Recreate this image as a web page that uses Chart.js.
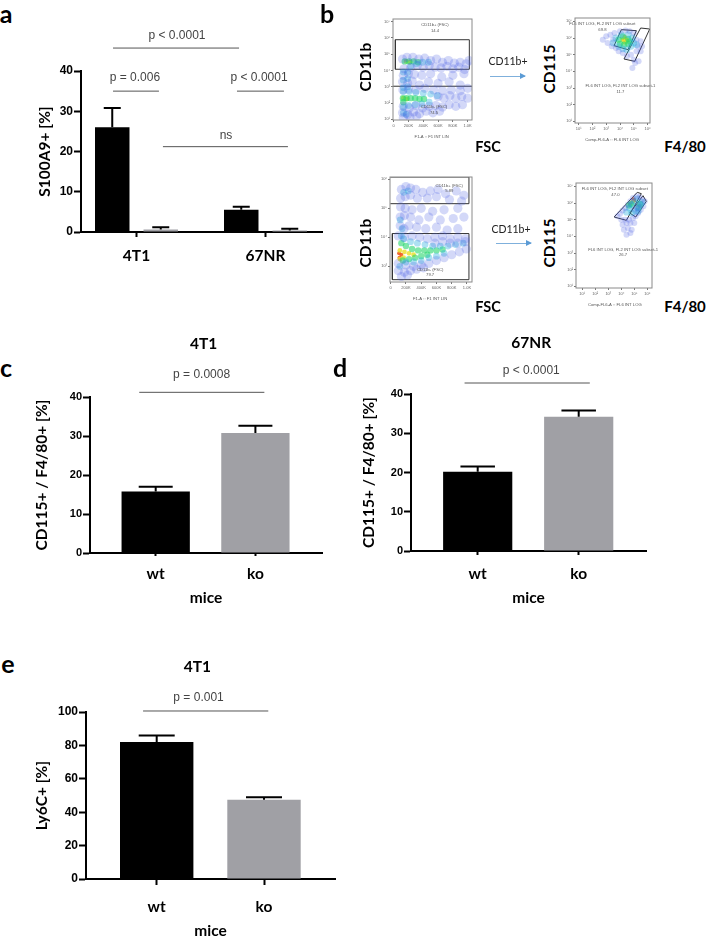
<!DOCTYPE html>
<html><head><meta charset="utf-8">
<script src="https://cdn.jsdelivr.net/npm/chart.js@4/dist/chart.umd.min.js"></script>
<style>
html,body{margin:0;padding:0;background:#fff}
#page{position:relative;width:708px;height:937px;overflow:hidden;background:#fff}
canvas{position:absolute}
.t{position:absolute;white-space:nowrap;color:#000;font-family:Lato,sans-serif;font-weight:700;transform:translate(-50%,-50%)}
.r{transform:translate(-50%,-50%) rotate(-90deg)}
.arrow{position:absolute;height:1px;background:#7fb0dc}
.arrow:after{content:"";position:absolute;right:-1px;top:-3px;border-left:6px solid #5b9bd5;border-top:3.5px solid transparent;border-bottom:3.5px solid transparent}
</style></head><body><div id="page"></div>
<script>
/* ---------- bar chart data ---------- */
const categoriesA=['4T1','67NR'];
const valuesAHigh=[26,5.5];
const valuesALow=[0.6,0.4];
const errTopAHigh=[30.8,6.3];
const errTopALow=[1.2,0.8];
const categoriesMice=['wt','ko'];
const valuesC=[15.8,30.8];
const errTopC=[17,32.6];
const valuesD=[20.2,34.2];
const errTopD=[21.5,35.8];
const valuesE=[82,47.5];
const errTopE=[86,49];
const ticksFSC=[0,200,400,600,800,1000];
const tickNamesFSC=['0','200K','400K','600K','800K','1.0K'];
/* ---------- flow cytometry density points ---------- */
const f1Blue=[[120,4.7],[180,4.8],[260,4.8],[340,4.7],[420,4.75],[500,4.6],[580,4.7],[660,4.5],[740,4.6],[820,4.45],[900,4.5],[980,4.4],[1020,4.6],[140,4.1],[230,4.2],[320,4.3],[400,4.2],[480,4.3],[560,4.2],[640,4.15],[720,4.25],[800,4.1],[880,4.2],[960,4.05],[130,3.7],[200,3.8],[280,3.75],[380,3.7],[500,3.8],[650,3.6],[800,3.7],[950,3.8],[120,3.3],[190,3.2],[250,3.35],[350,3.1],[470,3.3],[600,3.2],[750,3.3],[900,3.1],[125,2.8],[200,2.85],[300,2.8],[420,2.9],[540,2.8],[660,2.75],[780,2.8],[900,2.75],[1000,2.9],[600,2.4],[680,2.3],[760,2.45],[840,2.3],[920,2.4],[1000,2.3],[130,1.8],[210,1.7],[300,1.85],[390,1.7],[480,1.8],[570,1.85],[660,1.75],[750,1.9],[840,1.8],[930,1.9],[120,1.4],[190,1.3],[270,1.45],[350,1.35],[440,1.5],[530,1.4],[620,1.5],[130,1.1],[220,1.15],[310,1.2]];
const f1Cyan=[[130,3.9],[190,3.9],[130,3.4],[190,3.5],[130,2.95],[190,3.0],[130,2.7],[210,2.7],[300,2.65],[400,2.6],[500,2.55],[590,2.45],[130,1.75],[200,1.85],[290,1.9],[380,1.95],[480,2.05],[230,4.25],[310,4.4],[390,4.5],[470,4.5],[130,1.4],[170,1.3]];
const f1Green=[[150,4.55],[210,4.55],[270,4.55],[330,4.5],[125,2.3],[175,2.3],[230,2.3],[290,2.3],[350,2.25],[410,2.25],[130,2.05]];
const f1Core=[[170,4.55],[220,4.5],[130,2.3],[180,2.25]];
const f2Blue=[[2.75,5.9],[3.0,6.1],[3.1,5.7],[3.3,6.2],[3.4,5.5],[3.5,5.9],[3.6,6.3],[3.7,5.4],[3.9,5.2],[4.0,6.4],[4.2,5.1],[4.4,6.45],[4.5,4.9],[4.7,6.4],[4.8,5.0],[5.0,6.3],[5.0,4.7],[5.2,5.9],[5.2,5.2],[5.3,5.5],[5.5,5.8],[5.5,5.2],[5.6,5.5],[5.1,4.5],[4.9,4.2],[5.35,4.6]];
const f2Cyan=[[3.5,5.7],[3.7,6.0],[3.9,5.5],[4.1,6.2],[4.2,5.35],[4.5,5.3],[4.8,5.5],[4.9,6.0],[5.0,5.7],[4.6,6.2],[5.2,5.6]];
const f2Green=[[3.9,5.9],[4.0,5.65],[4.2,6.1],[4.3,5.6],[4.6,5.95],[4.6,5.65],[4.7,5.8]];
const f2Yellow=[[4.2,5.9],[4.35,5.75],[4.5,5.85],[4.35,6.05]];
const f2Red=[[4.3,5.9],[4.4,5.95],[4.35,5.85]];
const f3Blue=[[140,5.65],[200,5.75],[260,5.7],[330,5.65],[420,5.55],[520,5.6],[620,5.65],[720,5.5],[860,5.6],[960,5.45],[130,5.35],[190,5.4],[260,5.45],[350,5.35],[480,5.35],[600,5.4],[770,5.3],[930,5.25],[130,5.05],[190,5.0],[280,4.95],[400,5.0],[550,4.9],[700,4.95],[880,5.0],[125,4.7],[180,4.75],[260,4.7],[370,4.6],[500,4.7],[650,4.6],[820,4.65],[960,4.7],[125,4.4],[175,4.3],[240,4.4],[340,4.35],[460,4.3],[600,4.35],[740,4.25],[880,4.3],[100,4.05],[180,4.0],[280,4.05],[380,4.0],[480,3.95],[580,4.0],[680,4.05],[780,3.95],[880,4.0],[980,3.95],[580,3.8],[680,3.85],[780,3.8],[880,3.8],[980,3.85],[100,3.1],[200,3.05],[300,3.0],[400,3.05],[500,3.1],[600,3.2],[700,3.3],[800,3.4],[900,3.5],[990,3.6],[100,2.85],[180,2.8],[260,2.85],[340,2.9],[430,2.95],[140,2.65],[220,2.7]];
const f3Cyan=[[125,4.6],[150,4.3],[140,4.05],[170,3.95],[260,3.85],[350,3.8],[450,3.75],[550,3.7],[650,3.7],[750,3.7],[850,3.75],[950,3.8],[200,3.15],[300,3.15],[400,3.2],[500,3.3],[600,3.35],[700,3.45],[120,3.0],[170,5.55],[230,5.6]];
const f3Green=[[140,3.8],[200,3.7],[280,3.6],[360,3.55],[440,3.55],[520,3.55],[600,3.55],[680,3.58],[160,3.2],[240,3.25],[320,3.3],[400,3.35],[480,3.4]];
const f3Yellow=[[120,3.55],[180,3.5],[240,3.45],[300,3.4],[120,3.25],[170,3.3]];
const f3Red=[[110,3.45],[140,3.4],[115,3.3]];
const f4Blue=[[3.7,5.2],[3.9,5.35],[4.1,5.55],[4.3,5.7],[4.5,5.9],[4.7,6.1],[4.9,6.3],[5.2,6.4],[5.4,6.35],[5.6,6.2],[5.8,6.1],[5.7,5.8],[5.5,5.6],[5.3,5.4],[5.1,5.2],[4.9,5.1],[4.6,5.0],[4.3,5.0],[4.0,5.0],[4.1,4.7],[4.4,4.8],[4.7,4.8],[5.0,4.8],[4.2,4.4],[4.5,4.5],[4.8,4.4],[4.4,4.1],[4.7,4.2],[5.2,5.7],[5.0,5.6],[5.3,5.9]];
const f4Cyan=[[4.6,5.7],[4.8,5.9],[5.0,6.1],[5.2,6.25],[4.4,5.45],[5.1,5.5],[5.3,5.7],[5.5,5.9],[5.6,6.05],[5.3,5.5],[4.8,5.4]];
const f4Green=[[4.75,5.95],[4.6,5.85],[5.35,5.75],[5.45,5.95]];
const f4Yellow=[[4.85,6.05],[4.7,5.9]];
const f4Red=[[5.0,6.15],[4.95,6.22]];
/* gates */
const gate1Upper=[[23,4.07],[1023,4.07],[1023,5.88],[23,5.88],[23,4.07]];
const gate1Line=[[-9,3.03],[1059,3.03]];
const gate3Upper=[[-5,5.16],[1026,5.16],[1026,6.08],[-5,6.08]];
const gate3Lower=[[22,2.54],[1026,2.54],[1026,4.13],[22,4.13],[22,2.54]];
const gate2A=[[4.10,6.5],[5.19,6.44],[4.58,5.3],[3.57,5.54],[4.10,6.5]];
const gate2B=[[5.5,6.6],[6.16,6.54],[5.07,4.6],[4.29,4.74],[5.5,6.6]];
const gate4A=[[3.45,5.16],[5.23,6.64],[5.54,6.56],[4.39,4.96],[3.45,5.16]];
const gate4B=[[4.65,5.4],[5.67,6.44],[5.92,6.1],[5.11,5.16],[4.65,5.4]];

const page=document.getElementById('page');
const LATO='Lato, sans-serif', ARIAL='"Liberation Sans", Arial, sans-serif';
const BLACK='#000', GRAY='#a0a0a5';

/* draws error bars, significance lines and free labels through the chart's scales */
const overlay={id:'overlay',afterDatasetsDraw(chart,args,o){
  const {ctx,scales:{x,y}}=chart;
  ctx.save();
  (o.errors||[]).forEach((tops,di)=>{
    if(!tops) return;
    const meta=chart.getDatasetMeta(di);
    tops.forEach((t,i)=>{
      const bar=meta.data[i], px=bar.x, top=y.getPixelForValue(t);
      ctx.strokeStyle='#000';ctx.lineWidth=o.errWidth||2;
      ctx.beginPath();ctx.moveTo(px,bar.y);ctx.lineTo(px,top);
      ctx.moveTo(px-o.cap/2,top);ctx.lineTo(px+o.cap/2,top);ctx.stroke();
    });
  });
  (o.lines||[]).forEach(l=>{
    ctx.strokeStyle='#555';ctx.lineWidth=1;
    ctx.beginPath();ctx.moveTo(x.getPixelForValue(l[0]),y.getPixelForValue(l[2]));
    ctx.lineTo(x.getPixelForValue(l[1]),y.getPixelForValue(l[2]));ctx.stroke();
  });
  (o.texts||[]).forEach(t=>{
    ctx.font=t[3];ctx.fillStyle=t[4];ctx.textAlign='center';ctx.textBaseline='middle';
    ctx.fillText(t[0],x.getPixelForValue(t[1]),y.getPixelForValue(t[2]));
  });
  if(o.box){
    const a=chart.chartArea;ctx.strokeStyle='#8a8a8a';ctx.lineWidth=1;
    ctx.strokeRect(a.left,a.top,a.right-a.left,a.bottom-a.top);
  }
  ctx.restore();
}};
Chart.register(overlay);

function mkCanvas(L,T,R,B,blur){
  const c=document.createElement('canvas');
  c.width=R-L;c.height=B-T;
  c.style.left=L+'px';c.style.top=T+'px';c.style.width=(R-L)+'px';c.style.height=(B-T)+'px';
  if(blur)c.style.filter='blur('+blur+'px)';
  page.appendChild(c);return c;
}

function barChart(p){
  const [L,T,R,B]=p.box,[l,t,r,b]=p.area;
  const unit=p.spacing, xMin=1-(p.firstTick-l)/unit, xMax=xMin+(r-l)/unit;
  new Chart(mkCanvas(L,T,R,B),{
    type:'bar',
    data:{labels:p.categories.map((c,i)=>i+1),datasets:p.datasets},
    options:{
      responsive:false,animation:false,
      layout:{padding:{left:0,top:t-T,right:R-r,bottom:0}},
      plugins:{legend:{display:false},tooltip:{enabled:false},
        overlay:{errors:p.errors,cap:p.cap,lines:p.lines,texts:p.texts}},
      scales:{
        x:{type:'linear',offset:false,min:xMin,max:xMax,
          afterBuildTicks(s){s.ticks=p.categories.map((c,i)=>({value:i+1}));},
          afterFit(s){s.height=B-b;},
          grid:{offset:false,drawOnChartArea:false,drawTicks:true,tickLength:p.xTick,tickWidth:2,tickColor:'#000'},
          border:{color:'#000',width:2},
          title:p.xTitle?{display:true,text:p.xTitle,padding:0,color:'#000',font:{family:LATO,weight:'bold',size:p.xFont}}:{display:false},
          ticks:{autoSkip:false,maxRotation:0,padding:p.xPad,color:'#000',font:{family:LATO,weight:'bold',size:p.xFont},
            callback:(v,i)=>p.categories[i]}},
        y:{min:0,max:p.yMax,
          afterFit(s){s.width=l-L;},
          grid:{drawOnChartArea:false,tickLength:p.yTick,tickWidth:2,tickColor:'#000'},
          border:{color:'#000',width:2},
          title:{display:true,text:p.yTitle,padding:0,color:'#000',font:{family:LATO,weight:'bold',size:p.yTitleFont}},
          ticks:{stepSize:p.step,padding:1,color:'#000',font:{family:ARIAL,weight:'bold',size:p.yFont}}}
      }
    }
  });
}

const pts=a=>a.map(q=>({x:q[0],y:q[1]}));
function flowChart(p){
  const [L,T,R,B]=p.box,[l,t,r,b]=p.area;
  const clouds=[[p.blue,'rgba(70,90,225,0.24)',p.soft||4.6],[p.cyan,'rgba(40,175,220,0.38)',3.4],[p.green,'rgba(40,215,110,0.6)',3.2],[p.yellow||[],'rgba(235,225,50,0.85)',2.4],[p.red||[],'rgba(240,90,30,0.9)',2]];
  const ds=clouds.map(c=>({type:'scatter',data:pts(c[0]),backgroundColor:c[1],pointRadius:c[2],pointBorderWidth:0,showLine:false}));
  const gates=p.gates.map(g=>({type:'scatter',data:pts(g),showLine:true,borderColor:'#333',borderWidth:1,pointRadius:0,fill:false,tension:0}));
  new Chart(mkCanvas(L,T,R,B,0.5),{
    type:'scatter',
    data:{datasets:ds.concat(gates)},
    options:{
      responsive:false,animation:false,
      layout:{padding:{left:0,top:t-T,right:R-r,bottom:0}},
      plugins:{legend:{display:false},tooltip:{enabled:false},overlay:{box:true,texts:p.texts}},
      scales:{
        x:{type:'linear',min:p.x[0],max:p.x[1],
          afterBuildTicks(s){s.ticks=p.xTicks.map(v=>({value:v}));},
          afterFit(s){s.height=B-b;},
          grid:{drawOnChartArea:false,tickLength:2,tickWidth:1,tickColor:'#777'},
          border:{display:false},
          ticks:{autoSkip:false,maxRotation:0,padding:1,color:'#666',font:{family:ARIAL,size:4},callback:(v,i)=>p.xNames[i]}},
        y:{min:p.y[0],max:p.y[1],
          afterBuildTicks(s){s.ticks=p.yTicks.map(v=>({value:v}));},
          afterFit(s){s.width=l-L;},
          grid:{drawOnChartArea:false,tickLength:2,tickWidth:1,tickColor:'#777'},
          border:{display:false},
          ticks:{autoSkip:false,padding:1,color:'#666',font:{family:ARIAL,size:4},callback:(v,i)=>p.yNames[i]}}
      }
    }
  });
}

const pFont='12px '+ARIAL, pCol='#444', titleFont='bold 15.5px '+LATO, tiny='4.2px '+ARIAL, tinyCol='#555';

/* panel a */
barChart({box:[36,20,335,272],area:[81,71,322,232],categories:categoriesA,firstTick:136.5,spacing:129,
  datasets:[
   {data:valuesAHigh,backgroundColor:BLACK,categoryPercentage:0.752,barPercentage:0.711},
   {data:valuesALow,backgroundColor:GRAY,categoryPercentage:0.752,barPercentage:0.711}],
  errors:[errTopAHigh,errTopALow],cap:17,yMax:40,step:10,yFont:12,yTick:7,xTick:5,xPad:10,xFont:15.5,
  yTitle:'S100A9+ [%]',yTitleFont:15.5,
  lines:[[0.818,1.795,45.7],[0.818,1.174,35],[1.779,2.143,35],[1.205,2.174,21.2]],
  texts:[['p < 0.0001',1.314,48.7,pFont,pCol],['p = 0.006',0.988,38.4,pFont,pCol],['p < 0.0001',1.95,38.4,pFont,pCol],['ns',1.694,23.9,pFont,pCol]]});

/* panel c */
barChart({box:[33,330,335,607],area:[90,397,322,553],categories:categoriesMice,firstTick:155.7,spacing:99.7,
  datasets:[{data:valuesC,backgroundColor:[BLACK,GRAY],categoryPercentage:0.685,barPercentage:1}],
  errors:[errTopC],cap:34,yMax:40,step:10,yFont:11,yTick:7,xTick:3,xPad:9,xFont:15.5,xTitle:'mice',
  yTitle:'CD115+ / F4/80+ [%]',yTitleFont:15.5,
  lines:[[0.835,2.09,41.2]],
  texts:[['4T1',1.48,53.7,titleFont,'#000'],['p = 0.0008',1.46,45.6,pFont,pCol]]});

/* panel d */
barChart({box:[360,330,660,607],area:[411,394,646,551],categories:categoriesMice,firstTick:477.7,spacing:101,
  datasets:[{data:valuesD,backgroundColor:[BLACK,GRAY],categoryPercentage:0.685,barPercentage:1}],
  errors:[errTopD],cap:34.5,yMax:40,step:10,yFont:11,yTick:7,xTick:4,xPad:10,xFont:15.5,xTitle:'mice',
  yTitle:'CD115+ / F4/80+ [%]',yTitleFont:15.5,
  lines:[[0.87,2.11,42.8]],
  texts:[['67NR',1.53,53,titleFont,'#000'],['p < 0.0001',1.53,45.9,pFont,pCol]]});

/* panel e */
barChart({box:[33,655,345,940],area:[86,712,335,879],categories:categoriesMice,firstTick:156.7,spacing:107.3,
  datasets:[{data:valuesE,backgroundColor:[BLACK,GRAY],categoryPercentage:0.684,barPercentage:1}],
  errors:[errTopE],cap:36,yMax:100,step:20,yFont:12,yTick:7,xTick:6,xPad:13,xFont:15.5,xTitle:'mice',
  yTitle:'Ly6C+ [%]',yTitleFont:15.5,
  lines:[[0.873,2.04,100.6]],
  texts:[['4T1',1.38,127,titleFont,'#000'],['p = 0.001',1.39,108.7,pFont,pCol]]});

/* panel b: flow plots */
const sup=['⁰','¹','²','³','⁴','⁵','⁶','⁷'];
const dec=a=>a.map(n=>'10'+sup[n]);
flowChart({box:[378,10,480,145],area:[393,19,472,120],x:[-9,1059],y:[0.96,7.15],xTicks:ticksFSC,xNames:tickNamesFSC,
  yTicks:[1,2,3,4,5,6,7],yNames:dec([1,2,3,4,5,6,7]),blue:f1Blue,cyan:f1Cyan,green:f1Green,yellow:f1Core,
  gates:[gate1Upper,gate1Line],
  texts:[['CD11b+ (FSC)',559,6.8,tiny,tinyCol],['14.4',559,6.45,tiny,tinyCol],['CD11b- (FSC)',545,1.74,tiny,tinyCol],['74.5',545,1.41,tiny,tinyCol],['F1-A :: F1 INT LIN',514,-0.05,tiny,tinyCol]]});
flowChart({box:[560,10,658,145],area:[575,18,650,123],x:[0.73,6.18],y:[0.9,7.2],xTicks:[1,2,3,4,5,6],xNames:dec([1,2,3,4,5,6]),
  yTicks:[1,2,3,4,5,6,7],yNames:dec([1,2,3,4,5,6,7]),blue:f2Blue,cyan:f2Cyan,green:f2Green,yellow:f2Yellow,red:f2Red,soft:3,
  gates:[gate2A,gate2B],
  texts:[['FL6 INT LOG, FL2 INT LOG subset',2.72,6.86,tiny,tinyCol],['69.8',2.72,6.5,tiny,tinyCol],['FL6 INT LOG, FL2 INT LOG subset-1',4.03,3.1,tiny,tinyCol],['11.7',4.03,2.74,tiny,tinyCol],['Comp-FL6-A :: FL6 INT LOG',3.42,-0.1,tiny,tinyCol]]});
flowChart({box:[375,168,480,305],area:[390,177,472,282],x:[-9,1066],y:[2.46,6.08],xTicks:ticksFSC,xNames:tickNamesFSC,
  yTicks:[3,4,5,6],yNames:dec([3,4,5,6]),blue:f3Blue,cyan:f3Cyan,green:f3Green,yellow:f3Yellow,red:f3Red,
  gates:[gate3Upper,gate3Lower],
  texts:[['CD11b+ (FSC)',768,5.79,tiny,tinyCol],['5.89',768,5.6,tiny,tinyCol],['CD11b- (FSC)',517,2.885,tiny,tinyCol],['79.7',517,2.69,tiny,tinyCol],['F1-A :: F1 INT LIN',517,1.885,tiny,tinyCol]]});
flowChart({box:[561,175,660,312],area:[576,183,652,288],x:[0.52,6.36],y:[0.9,7.2],xTicks:[1,2,3,4,5,6],xNames:dec([1,2,3,4,5,6]),
  yTicks:[1,2,3,4,5,6,7],yNames:dec([1,2,3,4,5,6,7]),blue:f4Blue,cyan:f4Cyan,green:f4Green,yellow:f4Yellow,red:f4Red,soft:3,
  gates:[gate4A,gate4B],
  texts:[['FL6 INT LOG, FL2 INT LOG subset',3.5,6.84,tiny,tinyCol],['47.0',3.55,6.5,tiny,tinyCol],['FL6 INT LOG, FL2 INT LOG subset-1',4.14,3.2,tiny,tinyCol],['26.7',4.14,2.86,tiny,tinyCol],['Comp-FL6-A :: FL6 INT LOG',3.5,-0.1,tiny,tinyCol]]});

/* free labels */
function label(text,x,y,size,opt){
  const d=document.createElement('div');d.className='t'+(opt&&opt.rot?' r':'');d.textContent=text;
  d.style.left=x+'px';d.style.top=y+'px';d.style.fontSize=size+'px';
  if(opt&&opt.normal){d.style.fontWeight=400;d.style.color='#222';}
  page.appendChild(d);
}
[['a',6,13],['b',327,13],['c',6,367],['d',340,367],['e',8,663]].forEach(q=>label(q[0],q[1],q[2],25));
[[365,67],[365,243]].forEach(q=>label('CD11b',q[0],q[1],15.5,{rot:1}));
[[549,69],[549,243]].forEach(q=>label('CD115',q[0],q[1],15.5,{rot:1}));
[[488,146],[488,306]].forEach(q=>label('FSC',q[0],q[1],14.5));
[[685,146],[685,306]].forEach(q=>label('F4/80',q[0],q[1],15));
[[508,61],[511,229]].forEach(q=>label('CD11b+',q[0],q[1],10.5,{normal:1}));
[[490,76,35],[496,243,35]].forEach(q=>{
  const a=document.createElement('div');a.className='arrow';
  a.style.left=q[0]+'px';a.style.top=q[1]+'px';a.style.width=q[2]+'px';page.appendChild(a);
});
</script></body></html>
